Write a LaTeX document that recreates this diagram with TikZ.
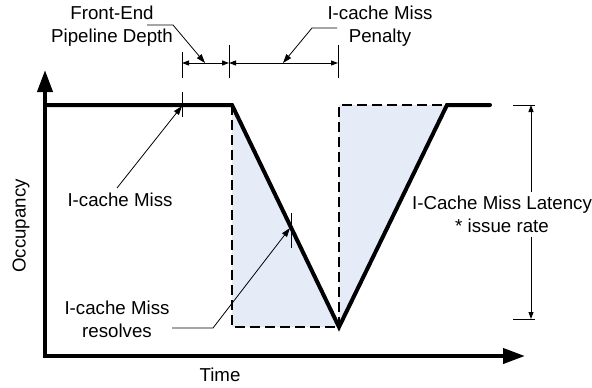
\documentclass[tikz,border=0pt]{standalone}
\usepackage{fontspec}
\setmainfont{Liberation Sans}
\usetikzlibrary{arrows.meta}
\definecolor{missfill}{RGB}{230,236,247}
\begin{document}
\begin{tikzpicture}[x=1pt,y=-1pt,
  lbl/.style={font=\fontsize{18.7}{23}\selectfont, align=center, inner sep=0pt},
  axisline/.style={line width=4pt, {Triangle[length=22pt,width=15pt]}-{Triangle[length=22pt,width=15pt]}},
  occline/.style={line width=4pt, line cap=round},
  boundline/.style={line width=1.8pt, dash pattern=on 10pt off 5pt},
  tickline/.style={line width=0.9pt},
  dimline/.style={line width=0.9pt, {Triangle[length=7pt,width=5pt]}-{Triangle[length=7pt,width=5pt]}},
  dimhalf/.style={line width=0.9pt, -{Triangle[length=7pt,width=5pt]}},
  leader/.style={line width=0.8pt, -{Triangle[length=9pt,width=6pt]}}]
\useasboundingbox (0,0) rectangle (592,388);

% key points of the occupancy curve
\coordinate (start) at (45,105);
\coordinate (drop) at (232,105);
\coordinate (low) at (339,327);
\coordinate (rise) at (447,105);
\coordinate (stop) at (490,105);
\coordinate (dropfoot) at (232,327);
\coordinate (risefoot) at (339,105);

% shaded miss regions
\fill[missfill] (drop) -- (dropfoot) -- (low) -- cycle;
\fill[missfill] (risefoot) -- (low) -- (rise) -- cycle;
\draw[boundline] (drop) -- (dropfoot) -- (low);
\draw[boundline] (low) -- (risefoot) -- (rise);

% occupancy curve
\draw[occline] (start) -- (drop) -- (low) -- (rise) -- (stop);

% axes
\coordinate (ytip) at (45,70);
\coordinate (origin) at (45,356);
\coordinate (xtip) at (525,356);
\draw[axisline] (ytip) -- (origin) -- (xtip);
\node[lbl] (time) at (220,375) {Time};
\node[lbl, rotate=90] (occ) at (21,226) {Occupancy};

% event marks on the curve
\coordinate (missA) at (182,92);
\coordinate (missB) at (182,117);
\coordinate (missP) at (182,106);
\draw[tickline] (missA) -- (missB);
\coordinate (resA) at (291,213);
\coordinate (resB) at (291,248);
\coordinate (resP) at (290,228);
\draw[tickline] (resA) -- (resB);

% dimension marks above the plot
\coordinate (d1a) at (182,52);
\coordinate (d1b) at (182,78);
\coordinate (d2a) at (229,45);
\coordinate (d2b) at (229,78);
\coordinate (d3a) at (338,45);
\coordinate (d3b) at (338,78);
\draw[tickline] (d1a) -- (d1b);
\draw[tickline] (d2a) -- (d2b);
\draw[tickline] (d3a) -- (d3b);
\coordinate (m1) at (182,63);
\coordinate (m2) at (229,63);
\coordinate (m3) at (338,63);
\draw[dimline] (m1) -- (m2);
\draw[dimline] (m2) -- (m3);

% latency dimension on the right
\coordinate (r1a) at (513,105);
\coordinate (r1b) at (535,105);
\coordinate (r2a) at (513,319);
\coordinate (r2b) at (535,319);
\draw[tickline] (r1a) -- (r1b);
\draw[tickline] (r2a) -- (r2b);
\coordinate (rtop) at (531,105);
\coordinate (rbot) at (531,319);
\coordinate (rgapA) at (531,192);
\coordinate (rgapB) at (531,237);
\draw[dimhalf] (rgapA) -- (rtop);
\draw[dimhalf] (rgapB) -- (rbot);
\node[lbl] (lat) at (502,214.5) {I-Cache Miss Latency\\* issue rate};

% labels with leaders
\node[lbl] (fe) at (112,26.5) {Front-End\\Pipeline Depth};
\coordinate (feL) at (147,25);
\coordinate (feK) at (173,25);
\coordinate (feT) at (205,63);
\draw[leader] (feL) -- (feK) -- (feT);

\node[lbl] (pen) at (380,26.5) {I-cache Miss\\Penalty};
\coordinate (penL) at (337,28);
\coordinate (penK) at (312,28);
\coordinate (penT) at (283,63);
\draw[leader] (penL) -- (penK) -- (penT);

\node[lbl] (miss) at (120,200) {I-cache Miss};
\coordinate (missL) at (117,188);
\draw[leader] (missL) -- (missP);

\node[lbl] (res) at (117,319.5) {I-cache Miss\\resolves};
\coordinate (resL) at (172,328);
\coordinate (resK) at (213,328);
\draw[leader] (resL) -- (resK) -- (resP);
\end{tikzpicture}
\end{document}
